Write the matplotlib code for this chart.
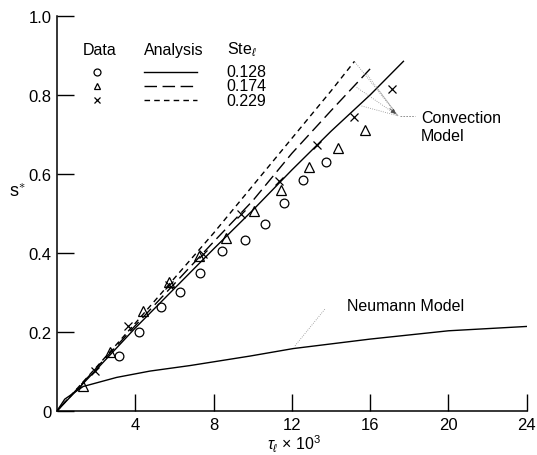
import numpy as np
import matplotlib
matplotlib.use("Agg")
import matplotlib.pyplot as plt

plt.rcParams['font.family'] = ['Liberation Sans', 'DejaVu Sans']
plt.rcParams['mathtext.fontset'] = 'custom'
plt.rcParams['mathtext.rm'] = 'Liberation Sans'
plt.rcParams['mathtext.it'] = 'Liberation Sans:italic'

# measured interface position s* vs dimensionless time tau_l (x 10^3)
ste_labels = ["0.128", "0.174", "0.229"]

t_circle = [3.17, 4.2, 5.3, 6.3, 7.3, 8.45, 9.6, 10.62, 11.61, 12.58, 13.74]
s_circle = [0.14, 0.20, 0.262, 0.30, 0.35, 0.405, 0.434, 0.473, 0.526, 0.585, 0.631]

t_tri = [1.34, 2.7, 4.4, 5.7, 7.27, 8.65, 10.05, 11.45, 12.9, 14.38, 15.75]
s_tri = [0.063, 0.149, 0.253, 0.326, 0.392, 0.437, 0.505, 0.559, 0.618, 0.665, 0.712]

t_cross = [1.94, 3.64, 5.7, 7.45, 9.4, 11.32, 13.26, 15.19, 17.09]
s_cross = [0.102, 0.216, 0.32, 0.398, 0.498, 0.583, 0.673, 0.744, 0.815]

# convection model predictions
t_conv1 = [0, 2, 4, 6, 8, 10, 12, 14, 16, 17.7]
s_conv1 = [0, 0.104, 0.21, 0.31, 0.41, 0.508, 0.61, 0.708, 0.80, 0.885]
t_conv2 = [0, 2, 4, 6, 8, 10, 12, 14, 16]
s_conv2 = [0, 0.108, 0.216, 0.322, 0.428, 0.532, 0.652, 0.76, 0.866]
t_conv3 = [0, 2, 4, 6, 8, 10, 12, 14, 15.2]
s_conv3 = [0, 0.11, 0.222, 0.336, 0.45, 0.57, 0.69, 0.81, 0.885]

# conduction-only (Neumann) solution
t_neu = [0, 0.4, 1.34, 3.05, 4.75, 6.8, 9.86, 12.07, 16, 20, 24]
s_neu = [0, 0.03, 0.062, 0.085, 0.101, 0.115, 0.139, 0.158, 0.182, 0.203, 0.214]

x_ticks = [4, 8, 12, 16, 20, 24]
y_ticks = [0, 0.2, 0.4, 0.6, 0.8, 1.0]
y_ticklabels = ["0", "0.2", "0.4", "0.6", "0.8", "1.0"]

fig = plt.figure(figsize=(5.37, 4.56), dpi=100)
ax = fig.add_axes([0.106, 0.0965, 0.875, 0.8665])

lw = 1.0
ax.plot(t_conv1, s_conv1, color='black', lw=lw, ls='-')
ax.plot(t_conv2, s_conv2, color='black', lw=lw, ls=(0, (9, 4)))
ax.plot(t_conv3, s_conv3, color='black', lw=lw, ls=(0, (4, 3)))
ax.plot(t_neu, s_neu, color='black', lw=lw, ls='-')

mk = dict(ls='none', color='black', mfc='none', mew=0.9)
ax.plot(t_circle, s_circle, marker='o', ms=6.3, **mk)
ax.plot(t_tri, s_tri, marker='^', ms=7, **mk)
ax.plot(t_cross, s_cross, marker='x', ms=5.5, **mk)

# leader lines to the model labels
lead = dict(color='0.55', lw=0.6, ls=':')
tip = (17.42, 0.747)
for src in [(15.22, 0.883), (15.82, 0.853), (15.31, 0.819), (16.33, 0.819), (15.56, 0.772)]:
    ax.plot([src[0], tip[0]], [src[1], tip[1]], **lead)
ax.annotate('', xy=tip, xytext=(16.9, 0.77),
            arrowprops=dict(arrowstyle='-|>', color='0.3', lw=0.6, mutation_scale=7))
ax.plot([tip[0] + 0.1, 18.3], [tip[1], tip[1]], color='0.5', lw=0.6, ls=(0, (2, 1.5)))
ax.text(18.6, 0.72, "Convection\nModel", fontsize=11.5, va='center', ha='left',
        linespacing=1.25)

ax.plot([12.16, 13.69], [0.165, 0.258], **lead)
ax.text(14.8, 0.267, "Neumann Model", fontsize=11.5, va='center', ha='left')

# key
ax.text(1.3, 0.916, "Data", fontsize=11.5, va='center', ha='left')
ax.text(4.44, 0.916, "Analysis", fontsize=11.5, va='center', ha='left')
ax.text(8.68, 0.916, "Ste$_{\\ell}$", fontsize=11.5, va='center', ha='left')
key_y = [0.858, 0.823, 0.787]
key_markers = ['o', '^', 'x']
key_styles = ['-', (0, (9, 4)), (0, (4, 3))]
for yk, m, ls_, lab in zip(key_y, key_markers, key_styles, ste_labels):
    ax.plot([2.04], [yk], marker=m, ms=5 if m != 'x' else 4.5, **mk)
    ax.plot([4.44, 7.15], [yk, yk], color='black', lw=lw, ls=ls_)
    ax.text(8.68, yk, lab, fontsize=11.5, va='center', ha='left')

ax.set_xlim(0, 24)
ax.set_ylim(0, 1.0)
ax.set_xticks(x_ticks)
ax.set_xticklabels([str(v) for v in x_ticks])
ax.set_yticks(y_ticks)
ax.set_yticklabels(y_ticklabels)
ax.tick_params(direction='in', length=12, width=1.0, labelsize=12, pad=4)
for side in ['top', 'right']:
    ax.spines[side].set_visible(False)
for side in ['left', 'bottom']:
    ax.spines[side].set_linewidth(1.1)

fig.text(0.032, 1 - 192 / 456, "s$^{\\ast}$", fontsize=13, va='center', ha='center')
fig.text(0.548, 1 - 444 / 456, "$\\tau_{\\ell}$ \u00d7 10$^{3}$", fontsize=11.5,
         va='center', ha='center')

fig.savefig("out.png", dpi=100)
